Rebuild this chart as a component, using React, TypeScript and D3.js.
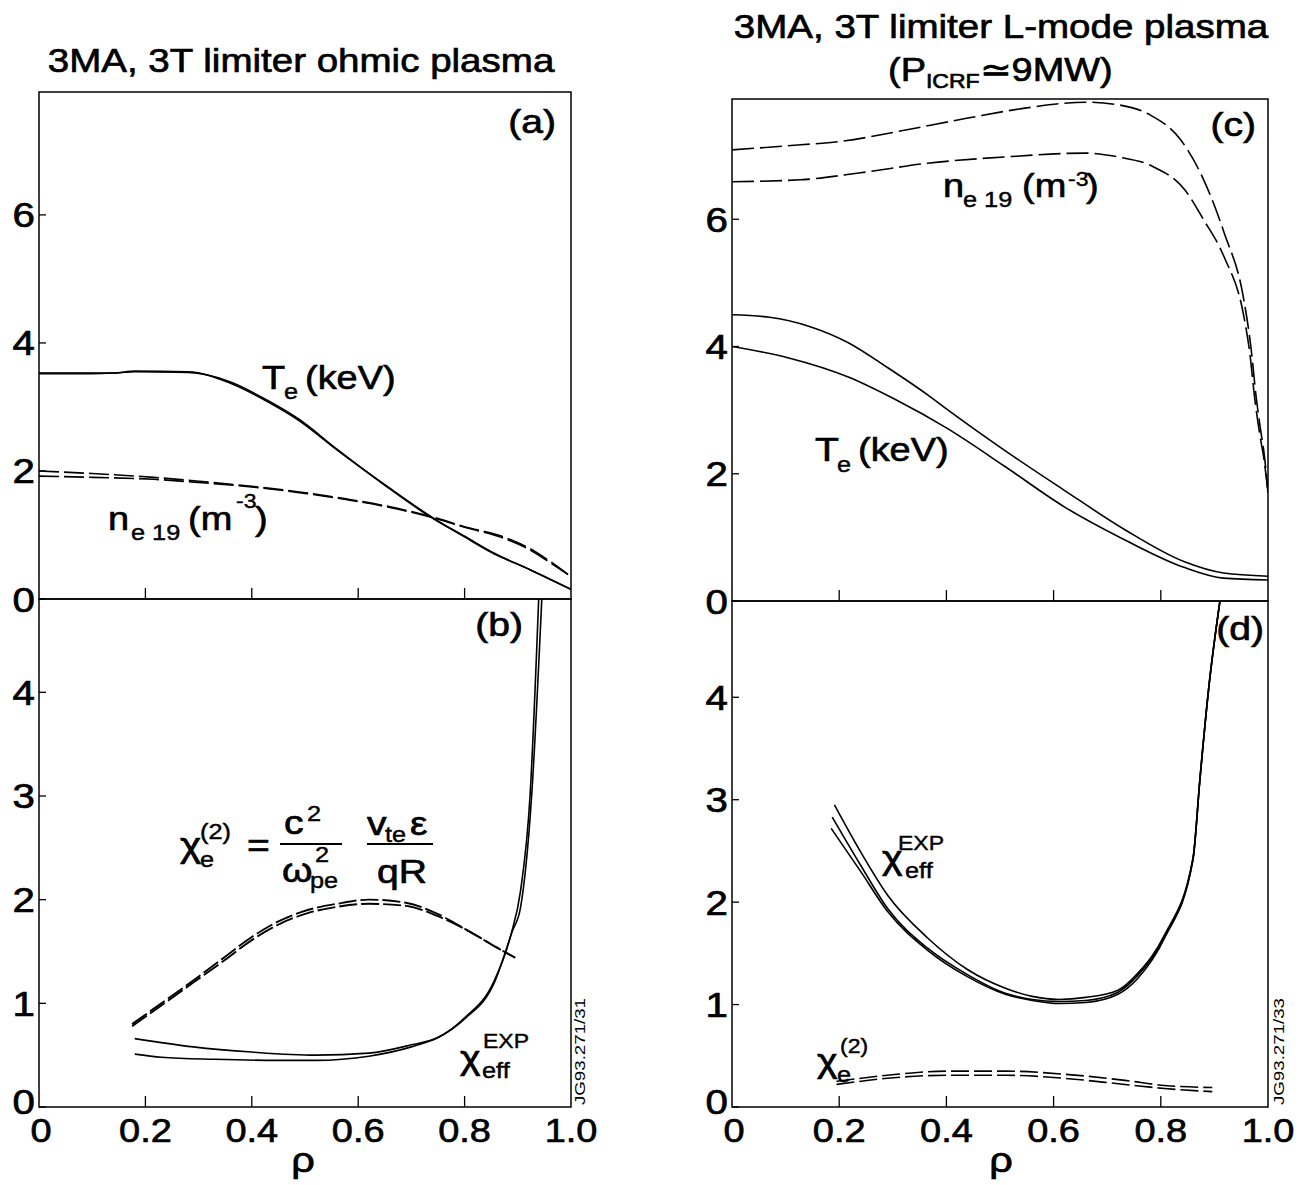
import React from "react";
import * as d3 from "d3";

// ---------- data ----------
// axis ticks
const xTickValues = [0, 0.2, 0.4, 0.6, 0.8, 1.0];
const xTickLabels = ["0", "0.2", "0.4", "0.6", "0.8", "1.0"];
const xMinorTicks = [0.2, 0.4, 0.6, 0.8];
const yTicksTop = [0, 2, 4, 6];
const yTicksBottom = [0, 1, 2, 3, 4];

// (a) ohmic: electron temperature (keV), two nearly identical profiles
const rhoTeOhmic = [0, 0.1, 0.14, 0.18, 0.28, 0.36, 0.43, 0.49, 0.56, 0.656, 0.74, 0.8, 0.85, 0.925, 1.0];
const teOhmicA = [3.53, 3.53, 3.53, 3.56, 3.55, 3.37, 3.08, 2.78, 2.33, 1.75, 1.27, 0.97, 0.73, 0.45, 0.15];
const teOhmicB = [3.52, 3.52, 3.53, 3.55, 3.54, 3.39, 3.1, 2.8, 2.34, 1.74, 1.26, 0.98, 0.74, 0.45, 0.15];
// (a) ohmic: density (1e19 m^-3)
const rhoNeOhmic = [0, 0.1, 0.216, 0.3, 0.4, 0.5, 0.58, 0.66, 0.74, 0.8, 0.87, 0.92, 0.955, 0.995];
const neOhmicA = [2.0, 1.96, 1.9, 1.84, 1.76, 1.66, 1.56, 1.44, 1.28, 1.13, 0.98, 0.8, 0.62, 0.38];
const neOhmicB = [1.92, 1.9, 1.87, 1.82, 1.75, 1.65, 1.55, 1.43, 1.27, 1.12, 0.96, 0.78, 0.6, 0.38];

// (b) ohmic: chi_e^(2) (dashed)
const rhoChi2Ohmic = [0.175, 0.23, 0.29, 0.35, 0.4, 0.45, 0.505, 0.56, 0.62, 0.69, 0.75, 0.81, 0.86, 0.895];
const chi2OhmicA = [0.8, 1.0, 1.22, 1.45, 1.64, 1.79, 1.9, 1.96, 2.0, 1.97, 1.86, 1.69, 1.54, 1.44];
const chi2OhmicB = [0.78, 0.98, 1.2, 1.42, 1.61, 1.76, 1.87, 1.93, 1.96, 1.94, 1.84, 1.69, 1.54, 1.44];
// (b) ohmic: chi_eff^EXP (solid)
const rhoChiEffOhmicA = [0.18, 0.29, 0.4, 0.52, 0.62, 0.7, 0.75, 0.8, 0.855, 0.887, 0.905, 0.923, 0.94];
const chiEffOhmicA = [0.66, 0.58, 0.53, 0.5, 0.52, 0.6, 0.67, 0.86, 1.21, 1.66, 2.08, 3.0, 5.0];
const rhoChiEffOhmicB = [0.18, 0.23, 0.33, 0.45, 0.52, 0.62, 0.7, 0.75, 0.8, 0.855, 0.89, 0.905, 0.926, 0.946];
const chiEffOhmicB = [0.51, 0.48, 0.46, 0.45, 0.45, 0.49, 0.58, 0.67, 0.85, 1.19, 1.7, 1.92, 3.0, 5.0];

// (c) L-mode: density (dashed)
const rhoNeLmodeA = [0, 0.128, 0.2, 0.31, 0.44, 0.55, 0.66, 0.72, 0.78, 0.837, 0.88, 0.918, 0.955, 0.968, 0.978, 0.986, 0.993, 1.0];
const neLmodeA = [7.09, 7.17, 7.22, 7.38, 7.59, 7.75, 7.84, 7.8, 7.64, 7.25, 6.62, 5.79, 4.73, 4.0, 3.2, 2.7, 2.3, 1.7];
const rhoNeLmodeB = [0, 0.128, 0.24, 0.365, 0.51, 0.66, 0.72, 0.785, 0.845, 0.88, 0.918, 0.955, 0.966, 0.975, 0.985, 0.993, 1.0];
const neLmodeB = [6.59, 6.62, 6.73, 6.88, 6.98, 7.04, 6.98, 6.83, 6.46, 5.99, 5.41, 4.47, 3.9, 3.2, 2.6, 2.2, 1.7];
// (c) L-mode: temperature (solid)
const rhoTeLmodeA = [0, 0.07, 0.143, 0.217, 0.29, 0.365, 0.4, 0.51, 0.62, 0.733, 0.843, 0.917, 1.0];
const teLmodeA = [4.5, 4.46, 4.32, 4.06, 3.67, 3.24, 3.02, 2.36, 1.74, 1.12, 0.62, 0.44, 0.39];
const rhoTeLmodeB = [0, 0.106, 0.217, 0.304, 0.4, 0.51, 0.62, 0.733, 0.843, 0.917, 1.0];
const teLmodeB = [4.0, 3.82, 3.52, 3.17, 2.72, 2.11, 1.48, 0.96, 0.53, 0.36, 0.33];

// (d) L-mode: chi_eff^EXP (three solid profiles)
const rhoChiEffLmodeA = [0.191, 0.24, 0.29, 0.365, 0.44, 0.51, 0.56, 0.61, 0.66, 0.72, 0.756, 0.807, 0.86, 0.873, 0.889, 0.912];
const chiEffLmodeA = [2.95, 2.49, 2.07, 1.65, 1.34, 1.16, 1.08, 1.05, 1.07, 1.14, 1.3, 1.68, 2.43, 3.2, 4.07, 5.0];
const rhoChiEffLmodeB = [0.187, 0.24, 0.29, 0.365, 0.44, 0.51, 0.56, 0.61, 0.66, 0.72, 0.756, 0.807, 0.86, 0.873, 0.889, 0.912];
const chiEffLmodeB = [2.83, 2.36, 1.94, 1.55, 1.29, 1.11, 1.05, 1.03, 1.04, 1.12, 1.28, 1.66, 2.42, 3.2, 4.07, 5.0];
const rhoChiEffLmodeC = [0.185, 0.24, 0.29, 0.365, 0.44, 0.51, 0.56, 0.61, 0.66, 0.72, 0.756, 0.807, 0.86, 0.873, 0.889, 0.912];
const chiEffLmodeC = [2.72, 2.3, 1.91, 1.53, 1.27, 1.1, 1.04, 1.01, 1.02, 1.1, 1.25, 1.65, 2.41, 3.2, 4.07, 5.0];
// (d) L-mode: chi_e^(2) (dashed)
const rhoChi2Lmode = [0.195, 0.29, 0.4, 0.51, 0.62, 0.733, 0.807, 0.896];
const chi2LmodeA = [0.25, 0.31, 0.35, 0.35, 0.32, 0.26, 0.21, 0.19];
const chi2LmodeB = [0.22, 0.28, 0.31, 0.31, 0.28, 0.22, 0.18, 0.15];

// ---------- layout ----------
const FONT = "'Liberation Sans', Arial, Helvetica, sans-serif";
const SX = 1.15;

const xL = d3.scaleLinear().domain([0, 1]).range([39, 571]);
const xR = d3.scaleLinear().domain([0, 1]).range([732, 1268]);
const yA = d3.scaleLinear().domain([0, 7.92]).range([599, 92]);
const yB = d3.scaleLinear().domain([0, 4.9]).range([1107, 599]);
const yC = d3.scaleLinear().domain([0, 7.89]).range([601, 99]);
const yD = d3.scaleLinear().domain([0, 4.94]).range([1107, 601]);

type Pt = [number, number];
const zip = (r: number[], v: number[]): Pt[] => r.map((x, i) => [x, v[i]] as Pt);

function ST(props: { x: number; y: number; size?: number; anchor?: string; children: any; sx?: number }) {
  const { x, y, size = 33, anchor = "start", children, sx = SX } = props;
  return (
    <g transform={`translate(${x},${y}) scale(${sx},1)`}>
      <text
        x={0}
        y={0}
        fontSize={size}
        textAnchor={anchor as any}
        fontFamily={FONT}
        fill="#000"
        stroke="#000"
        strokeWidth={size * 0.02}
      >
        {children}
      </text>
    </g>
  );
}

function Frame(props: { id: string; xs: any; ys: any; yTicks: number[]; xLabels?: boolean }) {
  const { id, xs, ys, yTicks, xLabels } = props;
  const [x0, x1] = xs.range();
  const [yb, yt] = ys.range();
  return (
    <g>
      <defs>
        <clipPath id={`clip-${id}`}>
          <rect x={x0} y={yt} width={x1 - x0} height={yb - yt} />
        </clipPath>
      </defs>
      <rect x={x0} y={yt} width={x1 - x0} height={yb - yt} fill="none" stroke="#000" strokeWidth={1.5} />
      {yTicks.map((t) => (
        <g key={t}>
          <line x1={x0} x2={x0 + 7} y1={ys(t)} y2={ys(t)} stroke="#000" strokeWidth={1.3} />
          <ST x={x0 - 4} y={ys(t) + 12.5 - (xLabels && t === 0 ? 6 : 0)} size={35} anchor="end">
            {String(t)}
          </ST>
        </g>
      ))}
      {xMinorTicks.map((t) => (
        <line key={t} x1={xs(t)} x2={xs(t)} y1={yb} y2={yb - 11} stroke="#000" strokeWidth={1.3} />
      ))}
      {xLabels &&
        xTickValues.map((t, i) => (
          <ST key={t} x={xs(t) + (t === 0 ? 2 : 0)} y={1142} size={33} anchor="middle">
            {xTickLabels[i]}
          </ST>
        ))}
    </g>
  );
}

function Curve(props: { id: string; xs: any; ys: any; data: Pt[]; dash?: string; w?: number }) {
  const { id, xs, ys, data, dash, w = 1.6 } = props;
  const gen = d3
    .line<Pt>()
    .x((d) => xs(d[0]))
    .y((d) => ys(d[1]))
    .curve(d3.curveMonotoneX);
  return (
    <path
      d={gen(data) || ""}
      fill="none"
      stroke="#000"
      strokeWidth={w}
      strokeDasharray={dash}
      clipPath={`url(#clip-${id})`}
    />
  );
}

export default function App() {
  return (
    <div style={{ position: "absolute", left: 0, top: 0 }}>
      <svg width={1309} height={1185} style={{ display: "block", background: "#fff" }}>
        <rect x={0} y={0} width={1309} height={1185} fill="#fff" />

        {/* titles */}
        <ST x={301} y={72} size={33.5} anchor="middle">3MA, 3T limiter ohmic plasma</ST>
        <ST x={1001} y={38} size={33.5} anchor="middle">3MA, 3T limiter L-mode plasma</ST>
        <ST x={888} y={81} size={33}>
          (P
          <tspan fontSize={20} dy={7}>ICRF</tspan>
          <tspan fontSize={33} dy={-7}>≃9MW)</tspan>
        </ST>

        {/* frames */}
        <Frame id="a" xs={xL} ys={yA} yTicks={yTicksTop} />
        <Frame id="b" xs={xL} ys={yB} yTicks={yTicksBottom} xLabels />
        <Frame id="c" xs={xR} ys={yC} yTicks={yTicksTop} />
        <Frame id="d" xs={xR} ys={yD} yTicks={yTicksBottom} xLabels />

        {/* (a) */}
        <Curve id="a" xs={xL} ys={yA} data={zip(rhoTeOhmic, teOhmicA)} />
        <Curve id="a" xs={xL} ys={yA} data={zip(rhoTeOhmic, teOhmicB)} />
        <Curve id="a" xs={xL} ys={yA} data={zip(rhoNeOhmic, neOhmicA)} dash="20 5" />
        <Curve id="a" xs={xL} ys={yA} data={zip(rhoNeOhmic, neOhmicB)} dash="20 5" />

        {/* (b) */}
        <Curve id="b" xs={xL} ys={yB} data={zip(rhoChi2Ohmic, chi2OhmicA)} dash="18 4" w={1.9} />
        <Curve id="b" xs={xL} ys={yB} data={zip(rhoChi2Ohmic, chi2OhmicB)} dash="18 4" w={1.9} />
        <Curve id="b" xs={xL} ys={yB} data={zip(rhoChiEffOhmicA, chiEffOhmicA)} />
        <Curve id="b" xs={xL} ys={yB} data={zip(rhoChiEffOhmicB, chiEffOhmicB)} />

        {/* (c) */}
        <Curve id="c" xs={xR} ys={yC} data={zip(rhoNeLmodeA, neLmodeA)} dash="22 6" />
        <Curve id="c" xs={xR} ys={yC} data={zip(rhoNeLmodeB, neLmodeB)} dash="22 6" />
        <Curve id="c" xs={xR} ys={yC} data={zip(rhoTeLmodeA, teLmodeA)} />
        <Curve id="c" xs={xR} ys={yC} data={zip(rhoTeLmodeB, teLmodeB)} />

        {/* (d) */}
        <Curve id="d" xs={xR} ys={yD} data={zip(rhoChiEffLmodeA, chiEffLmodeA)} />
        <Curve id="d" xs={xR} ys={yD} data={zip(rhoChiEffLmodeB, chiEffLmodeB)} />
        <Curve id="d" xs={xR} ys={yD} data={zip(rhoChiEffLmodeC, chiEffLmodeC)} />
        <Curve id="d" xs={xR} ys={yD} data={zip(rhoChi2Lmode, chi2LmodeA)} dash="18 5" />
        <Curve id="d" xs={xR} ys={yD} data={zip(rhoChi2Lmode, chi2LmodeB)} dash="18 5" />

        {/* panel letters */}
        <ST x={556} y={133} size={34} anchor="end">(a)</ST>
        <ST x={523} y={636} size={34} anchor="end">(b)</ST>
        <ST x={1256} y={136} size={34} anchor="end">(c)</ST>
        <ST x={1264} y={640} size={34} anchor="end">(d)</ST>

        {/* (a) labels */}
        <ST x={262} y={389} size={33}>T</ST>
        <ST x={284} y={399} size={22}>e</ST>
        <ST x={305} y={389} size={33}>(keV)</ST>
        <ST x={108} y={530} size={33}>n</ST>
        <ST x={131} y={540} size={22}>e 19</ST>
        <ST x={188} y={530} size={33}>(m</ST>
        <ST x={236} y={508} size={20}>-3</ST>
        <ST x={255} y={530} size={33}>)</ST>

        {/* (b) equation */}
        <ST x={180} y={857} size={35}>χ</ST>
        <ST x={200} y={867} size={22}>e</ST>
        <ST x={200} y={839} size={22}>(2)</ST>
        <ST x={247} y={857} size={34}>=</ST>
        <line x1={280} x2={342} y1={844} y2={844} stroke="#000" strokeWidth={2} />
        <ST x={284} y={834} size={34}>c</ST>
        <ST x={307} y={821} size={22}>2</ST>
        <ST x={282} y={882} size={34}>ω</ST>
        <ST x={315} y={862} size={22}>2</ST>
        <ST x={310} y={888} size={22}>pe</ST>
        <line x1={367} x2={433} y1={844} y2={844} stroke="#000" strokeWidth={2} />
        <ST x={367} y={835} size={34}>v</ST>
        <ST x={385} y={842} size={22}>te</ST>
        <ST x={410} y={835} size={34}>ε</ST>
        <ST x={377} y={883} size={34}>qR</ST>

        {/* (b) chi_eff label */}
        <ST x={460} y={1069} size={34}>χ</ST>
        <ST x={482} y={1078} size={22}>eff</ST>
        <ST x={483} y={1048} size={20}>EXP</ST>

        {/* (c) labels */}
        <ST x={943} y={197} size={33}>n</ST>
        <ST x={963} y={207} size={22}>e 19</ST>
        <ST x={1022} y={197} size={33}>(m</ST>
        <ST x={1068} y={186} size={20}>-3</ST>
        <ST x={1086} y={197} size={33}>)</ST>
        <ST x={815} y={461} size={34}>T</ST>
        <ST x={837} y={472} size={22}>e</ST>
        <ST x={858} y={461} size={33}>(keV)</ST>

        {/* (d) labels */}
        <ST x={882} y={869} size={34}>χ</ST>
        <ST x={905} y={878} size={22}>eff</ST>
        <ST x={898} y={850} size={20}>EXP</ST>
        <ST x={817} y={1072} size={34}>χ</ST>
        <ST x={837} y={1082} size={22}>e</ST>
        <ST x={840} y={1053} size={20}>(2)</ST>

        {/* x axis titles */}
        <ST x={303} y={1172} size={36} anchor="middle">ρ</ST>
        <ST x={1001} y={1172} size={36} anchor="middle">ρ</ST>

        {/* figure codes */}
        <g transform="translate(585,1105) rotate(-90)">
          <text x={0} y={0} fontSize={15} fontFamily={FONT} textLength={107} lengthAdjust="spacingAndGlyphs" fill="#000">
            JG93.271/31
          </text>
        </g>
        <g transform="translate(1284,1105) rotate(-90)">
          <text x={0} y={0} fontSize={15} fontFamily={FONT} textLength={107} lengthAdjust="spacingAndGlyphs" fill="#000">
            JG93.271/33
          </text>
        </g>
      </svg>
    </div>
  );
}
